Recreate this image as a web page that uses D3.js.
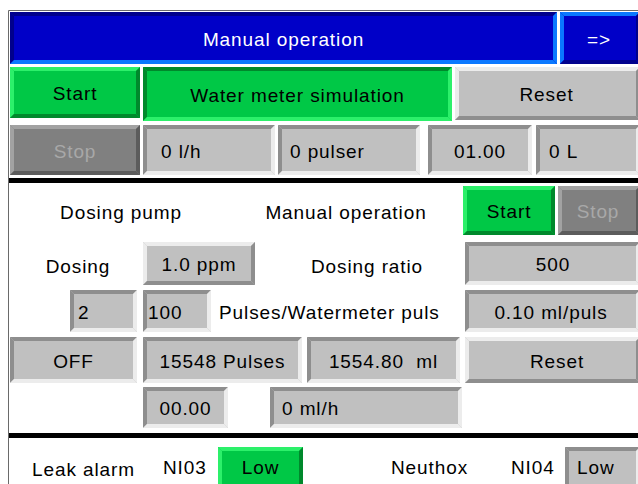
<!DOCTYPE html>
<html>
<head>
<meta charset="utf-8">
<script src="https://cdn.jsdelivr.net/npm/d3@7"></script>
<style>
  body { margin: 0; background: #fff; }
  text { font-family: "Liberation Sans", Arial, sans-serif; font-size: 19px; letter-spacing: 0.9px; white-space: pre; }
</style>
</head>
<body>
<div id="panel"></div>
<script>
// values shown on the panel
const titleTexts = ['Manual operation', '=>'];
const meterButtons = ['Start', 'Water meter simulation', 'Reset', 'Stop'];
const meterReadings = ['0 l/h', '0 pulser', '01.00', '0 L'];
const dosingLabels = ['Dosing pump', 'Manual operation', 'Dosing', 'Dosing ratio', 'Pulses/Watermeter puls'];
const dosingButtons = ['Start', 'Stop', '1.0 ppm', 'Reset'];
const dosingReadings = ['500', '2', '100', '0.10 ml/puls', 'OFF', '15548 Pulses', '1554.80  ml', '00.00', '0 ml/h'];
const alarmLabels = ['Leak alarm', 'NI03', 'Neuthox', 'NI04'];
const alarmStates = ['Low', 'Low'];

const width = 638;
const height = 484;

const skins = {
    blue:  { face: '#0000c8', light: '#0a78ff', dark: '#00008c', text: '#ffffff' },
    green: { face: '#00c846', light: '#2cf06a', dark: '#00892c', text: '#000000' },
    gray:  { face: '#c0c0c0', light: '#ececec', dark: '#8e8e8e', text: '#000000' },
    off:   { face: '#808080', light: '#a2a2a2', dark: '#5c5c5c', text: '#a8a8a8' }
};

// widget layout: [text, x0, x1, y0, y1, skin, sunken, align, textX]
const widgets = [
    [titleTexts[0], 10, 557, 12, 64, 'blue', true, 'middle'],
    [titleTexts[1], 560, 640, 12, 64, 'blue', false, 'middle'],
    [meterButtons[0], 10, 140, 67, 118, 'green', false, 'middle'],
    [meterButtons[1], 143, 452, 67, 121, 'green', true, 'middle'],
    [meterButtons[2], 455, 640, 67, 120, 'gray', false, 'middle'],
    [meterButtons[3], 10, 140, 125, 175, 'off', false, 'middle'],
    [meterReadings[0], 143, 275, 125, 175, 'gray', true, 'start', 161],
    [meterReadings[1], 278, 420, 125, 175, 'gray', true, 'start', 290],
    [meterReadings[2], 428, 532, 125, 175, 'gray', true, 'middle'],
    [meterReadings[3], 536, 640, 125, 175, 'gray', true, 'start', 549],
    [dosingButtons[0], 463, 555, 186, 235, 'green', false, 'middle'],
    [dosingButtons[1], 558, 640, 186, 235, 'off', false, 'middle'],
    [dosingButtons[2], 143, 255, 242, 285, 'gray', false, 'middle'],
    [dosingReadings[0], 465, 640, 242, 285, 'gray', true, 'middle', 553],
    [dosingReadings[1], 70, 137, 290, 332, 'gray', true, 'start', 78],
    [dosingReadings[2], 143, 211, 290, 332, 'gray', true, 'start', 148],
    [dosingReadings[3], 465, 640, 290, 332, 'gray', true, 'middle', 551],
    [dosingReadings[4], 10, 137, 337, 383, 'gray', true, 'middle'],
    [dosingReadings[5], 143, 302, 337, 383, 'gray', true, 'middle'],
    [dosingReadings[6], 307, 460, 337, 383, 'gray', true, 'middle'],
    [dosingButtons[3], 465, 640, 337, 383, 'gray', false, 'middle', 557],
    [dosingReadings[7], 143, 228, 387, 428, 'gray', true, 'middle'],
    [dosingReadings[8], 270, 462, 387, 428, 'gray', true, 'start', 282],
    [alarmStates[0], 218, 303, 447, 492, 'green', false, 'middle'],
    [alarmStates[1], 565, 640, 447, 492, 'gray', true, 'start', 577]
];

// plain labels: [text, x, y, anchor]
const labels = [
    [dosingLabels[0], 121, 212, 'middle'],
    [dosingLabels[1], 346, 212, 'middle'],
    [dosingLabels[2], 78, 266, 'middle'],
    [dosingLabels[3], 367, 266, 'middle'],
    [dosingLabels[4], 219, 312, 'start'],
    [alarmLabels[0], 32, 469, 'start'],
    [alarmLabels[1], 163, 467, 'start'],
    [alarmLabels[2], 391, 467, 'start'],
    [alarmLabels[3], 511, 467, 'start']
];

const svg = d3.select('#panel')
    .append('svg')
    .attr('width', width)
    .attr('height', height);

svg.append('rect')
    .attr('width', width)
    .attr('height', height)
    .attr('fill', '#ffffff');

// outer frame
svg.append('path')
    .attr('d', 'M8.5,' + height + 'V10.5H' + width)
    .attr('fill', 'none')
    .attr('stroke', '#6a6a6a');

// black separators
[[178, 183], [433, 438]].forEach((s) => {
    svg.append('rect')
        .attr('x', 9)
        .attr('y', s[0])
        .attr('width', width - 9)
        .attr('height', s[1] - s[0])
        .attr('fill', '#000000');
});

function bevel(g, x0, y0, x1, y1, skin, sunken) {
    const b = 4;
    const tl = sunken ? skin.dark : skin.light;
    const br = sunken ? skin.light : skin.dark;
    g.append('rect')
        .attr('x', x0).attr('y', y0)
        .attr('width', x1 - x0).attr('height', y1 - y0)
        .attr('fill', skin.face);
    const polys = [
        [[x0, y0], [x1, y0], [x1 - b, y0 + b], [x0 + b, y0 + b], tl],
        [[x0, y0], [x0 + b, y0 + b], [x0 + b, y1 - b], [x0, y1], tl],
        [[x0, y1], [x0 + b, y1 - b], [x1 - b, y1 - b], [x1, y1], br],
        [[x1, y0], [x1, y1], [x1 - b, y1 - b], [x1 - b, y0 + b], br]
    ];
    polys.forEach((p) => {
        g.append('polygon')
            .attr('points', p.slice(0, 4).map((q) => q.join(',')).join(' '))
            .attr('fill', p[4]);
    });
}

svg.selectAll('g.widget')
    .data(widgets)
    .enter()
    .append('g')
    .attr('class', 'widget')
    .each(function(d) {
        const g = d3.select(this);
        const skin = skins[d[5]];
        bevel(g, d[1], d[3], d[2], d[4], skin, d[6]);
        const tx = d[8] !== undefined ? d[8] : (d[1] + Math.min(d[2], width)) / 2;
        // bottom row runs off the picture, so keep its text where it is seen
        const cy = d[4] > height ? 467 : (d[3] + d[4]) / 2 + 1;
        g.append('text')
            .attr('x', tx)
            .attr('y', cy)
            .attr('dy', '0.36em')
            .attr('text-anchor', d[7])
            .attr('fill', skin.text)
            .text(d[0]);
    });

svg.selectAll('text.label')
    .data(labels)
    .enter()
    .append('text')
    .attr('class', 'label')
    .attr('x', (d) => d[1])
    .attr('y', (d) => d[2])
    .attr('dy', '0.36em')
    .attr('text-anchor', (d) => d[3])
    .attr('fill', '#000000')
    .text((d) => d[0]);
</script>
</body>
</html>
